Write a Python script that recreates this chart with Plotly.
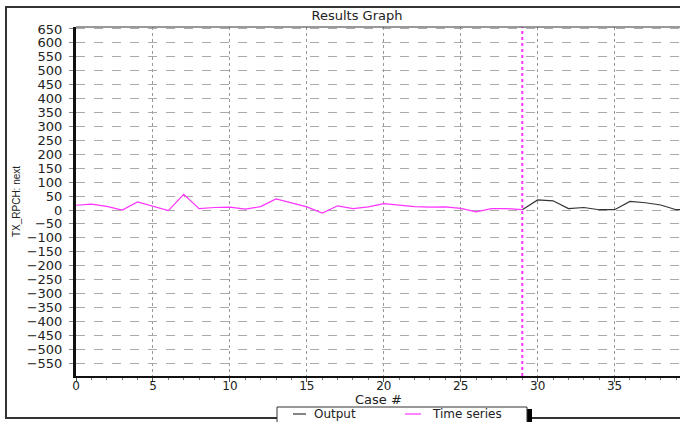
import plotly.graph_objects as go

# Data
ts_x = list(range(0, 30))
ts_y = [17, 21, 13, 0, 29, 13, -2, 56, 5, 9, 10, 3, 12, 40, 26,
        11, -11, 15, 5, 11, 23, 17, 12, 10, 11, 6, -7, 5, 5, 1]
out_x = list(range(29, 41))
out_y = [1, 36, 33, 5, 9, 1, 1, 31, 26, 18, 1, 2]
y_ticks = list(range(-550, 651, 50))
x_ticks = list(range(0, 40, 5))
split_x = 29
series_names = ["Output", "Time series"]
series_colors = ["#333333", "#ff33ff"]

fig = go.Figure()
fig.add_trace(go.Scatter(x=out_x, y=out_y, mode="lines", name=series_names[0],
                         line=dict(color=series_colors[0], width=1.2), showlegend=False))
fig.add_trace(go.Scatter(x=ts_x, y=ts_y, mode="lines", name=series_names[1],
                         line=dict(color=series_colors[1], width=1.2), showlegend=False))

font_main = "DejaVu Sans"
W, H = 680, 422
L, R, T, B = 76, 0, 27, 46
PW, PH = W - L - R, H - T - B


def px_x(p):
    return (p - L) / PW


def px_y(p):
    return (H - B - p) / PH


fig.update_layout(
    width=W, height=H,
    margin=dict(l=L, r=R, t=T, b=B, autoexpand=False),
    paper_bgcolor="white", plot_bgcolor="white",
    font=dict(family=font_main, size=13, color="#222222"),
    title=dict(text="Results Graph", x=357 / W, xanchor="center",
               y=1 - 15 / H, yanchor="middle",
               font=dict(family=font_main, size=13, color="#222222")),
    showlegend=False,
    xaxis=dict(range=[0, 39.25], tickmode="array", tickvals=x_ticks,
               automargin=False,
               showgrid=True, gridcolor="#999999", griddash="dot", gridwidth=1,
               zeroline=False, showline=True, linecolor="#111111", linewidth=2,
               ticks="outside", ticklen=4, tickcolor="#555555",
               ticklabelstandoff=-6,
               minor=dict(dtick=1, ticks="outside", ticklen=2, tickcolor="#777777", showgrid=False),
               tickfont=dict(family=font_main, size=12, color="#222222")),
    yaxis=dict(range=[-596, 657], tickmode="array", tickvals=y_ticks,
               automargin=False,
               showgrid=True, gridcolor="#aaaaaa", griddash="dash", gridwidth=1,
               zeroline=False, showline=True, linecolor="#111111", linewidth=3,
               ticks="outside", ticklen=4, tickcolor="#888888",
               ticklabelstandoff=4,
               title=dict(text="TX_RPCH: next", standoff=5,
                          font=dict(family="Liberation Sans", size=10, color="#222222")),
               tickfont=dict(family=font_main, size=13, color="#222222")),
)

# x-axis title
fig.add_annotation(text="Case #", xref="paper", yref="paper", x=0.5, y=px_y(399),
                   xanchor="center", yanchor="middle", showarrow=False,
                   font=dict(family=font_main, size=13, color="#222222"))

# vertical split line
fig.add_shape(type="line", xref="x", yref="paper", x0=split_x, x1=split_x, y0=0, y1=1,
              line=dict(color="#ff33ff", width=2, dash="dot"))
# top line of plot area
fig.add_shape(type="line", xref="paper", yref="paper", x0=0, x1=1.01, y0=1, y1=1,
              line=dict(color="#333333", width=1))
# outer border
fig.add_shape(type="rect", xref="paper", yref="paper",
              x0=px_x(6), x1=1.02, y0=px_y(418), y1=px_y(7),
              line=dict(color="#333333", width=2), fillcolor="rgba(0,0,0,0)", layer="below")

# legend (box, shadow, samples, labels)
fig.add_shape(type="rect", xref="paper", yref="paper",
              x0=px_x(527), x1=px_x(532), y0=px_y(409), y1=px_y(424),
              line=dict(width=0), fillcolor="black")
fig.add_shape(type="rect", xref="paper", yref="paper",
              x0=px_x(277), x1=px_x(527), y0=px_y(425), y1=px_y(407),
              line=dict(color="#333333", width=1), fillcolor="white")
leg_y = px_y(414)
for name, color, (lx0, lx1, tx) in zip(series_names, series_colors,
                                        [(293, 306, 312), (405, 421, 430)]):
    fig.add_shape(type="line", xref="paper", yref="paper", x0=px_x(lx0), x1=px_x(lx1),
                  y0=leg_y, y1=leg_y, line=dict(color=color, width=1.2))
    fig.add_annotation(text=name, xref="paper", yref="paper", x=px_x(tx), y=leg_y,
                       xanchor="left", yanchor="middle", showarrow=False,
                       font=dict(family=font_main, size=12, color="#222222"))

fig.write_html("out.html")
